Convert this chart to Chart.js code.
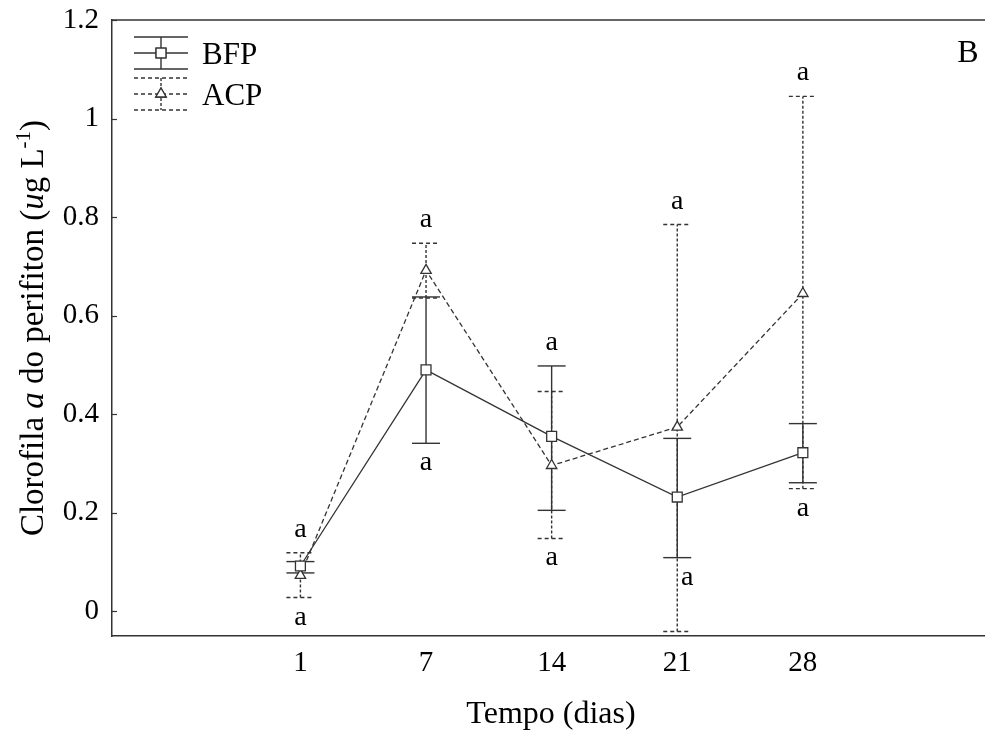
<!DOCTYPE html>
<html>
<head>
<meta charset="utf-8">
<script src="https://cdn.jsdelivr.net/npm/chart.js@4.4.1/dist/chart.umd.min.js"></script>
<style>
  html, body { margin: 0; padding: 0; background: #fff; overflow: hidden; }
  #wrap { width: 985px; height: 733px; }
  canvas { display: block; }
</style>
</head>
<body>
<div id="wrap"><canvas id="c" width="985" height="733"></canvas></div>
<script>
// Sampling days and chlorophyll-a means with error limits (ug/L)
const days = ['1', '7', '14', '21', '28'];
const bfpMean = [0.092, 0.490, 0.355, 0.232, 0.322];
const bfpLow  = [0.078, 0.341, 0.205, 0.109, 0.261];
const bfpHigh = [0.101, 0.638, 0.498, 0.351, 0.381];
const acpMean = [0.073, 0.692, 0.296, 0.374, 0.645];
const acpLow  = [0.028, 0.636, 0.148, -0.041, 0.249];
const acpHigh = [0.119, 0.747, 0.446, 0.785, 1.045];
// Significance letters above and below each sampling day
const lettersTop = ['a', 'a', 'a', 'a', 'a'];
const lettersBottom = ['a', 'a', 'a', 'a', 'a'];
const yTicks = [0, 0.2, 0.4, 0.6, 0.8, 1, 1.2];

const SERIF = '"Liberation Serif", "Times New Roman", serif';
const INK = '#333333';

const series = [
  { label: 'BFP', mean: bfpMean, low: bfpLow, high: bfpHigh, style: 'rect', radius: 7,
    lineDash: [], barDash: [], capDash: [] },
  { label: 'ACP', mean: acpMean, low: acpLow, high: acpHigh, style: 'triangle', radius: 6,
    lineDash: [5, 3], barDash: [3, 2], capDash: [4, 3] }
];

// Vertical error bars with caps, drawn under the markers
const errorBars = {
  id: 'errorBars',
  beforeDatasetsDraw(chart) {
    const ctx = chart.ctx, ys = chart.scales.y;
    series.forEach((s, i) => {
      const meta = chart.getDatasetMeta(i);
      ctx.save();
      ctx.strokeStyle = INK;
      ctx.lineWidth = 1.4;
      meta.data.forEach((pt, j) => {
        const x = pt.x;
        const yl = ys.getPixelForValue(s.low[j]);
        const yh = ys.getPixelForValue(s.high[j]);
        ctx.setLineDash(s.barDash);
        ctx.beginPath(); ctx.moveTo(x, yl); ctx.lineTo(x, yh); ctx.stroke();
        ctx.setLineDash(s.capDash);
        [yl, yh].forEach(y => {
          ctx.beginPath(); ctx.moveTo(x - 14, y); ctx.lineTo(x + 14, y); ctx.stroke();
        });
      });
      ctx.restore();
    });
  }
};

// Letters placed above the highest and below the lowest whisker of each day
const letters = {
  id: 'letters',
  afterDatasetsDraw(chart) {
    const ctx = chart.ctx, ys = chart.scales.y, area = chart.chartArea;
    const meta = chart.getDatasetMeta(0);
    ctx.save();
    ctx.fillStyle = '#000';
    ctx.font = '28px ' + SERIF;
    ctx.textAlign = 'center';
    ctx.textBaseline = 'alphabetic';
    meta.data.forEach((pt, j) => {
      const x = pt.x;
      const top = ys.getPixelForValue(Math.max(bfpHigh[j], acpHigh[j]));
      ctx.fillText(lettersTop[j], x, top - 22 + 6);
      let bot = ys.getPixelForValue(Math.min(bfpLow[j], acpLow[j])) + 21;
      let dx = 0;
      if (bot > area.bottom - 14) {
        bot = ys.getPixelForValue(bfpLow[j]) + 21;
        dx = 10;
      }
      ctx.fillText(lettersBottom[j], x + dx, bot + 6);
    });
    ctx.restore();
  }
};

// Top frame line, inward y ticks, axis titles, panel letter and legend
const decorations = {
  id: 'decorations',
  afterDraw(chart) {
    const ctx = chart.ctx, a = chart.chartArea, ys = chart.scales.y;
    ctx.save();
    ctx.strokeStyle = INK;
    ctx.lineWidth = 1.5;
    ctx.beginPath(); ctx.moveTo(a.left, a.top); ctx.lineTo(a.right, a.top); ctx.stroke();
    ctx.lineWidth = 1.2;
    yTicks.forEach(v => {
      const y = Math.round(ys.getPixelForValue(v)) + 0.5;
      ctx.beginPath(); ctx.moveTo(a.left, y); ctx.lineTo(a.left + 5, y); ctx.stroke();
    });

    ctx.fillStyle = '#000';
    // x title
    ctx.font = '32px ' + SERIF;
    ctx.textAlign = 'center';
    ctx.textBaseline = 'alphabetic';
    ctx.fillText('Tempo (dias)', 551, 723);

    // panel letter
    ctx.fillText('B', 968, 62);

    // y title with italic parts and superscript
    const segs = [
      { t: 'Clorofila ', f: '33px ' + SERIF, dy: 0 },
      { t: 'a', f: 'italic 33px ' + SERIF, dy: 0 },
      { t: ' do perifiton (', f: '33px ' + SERIF, dy: 0 },
      { t: 'u', f: 'italic 33px ' + SERIF, dy: 0 },
      { t: 'g L', f: '33px ' + SERIF, dy: 0 },
      { t: '-1', f: '21px ' + SERIF, dy: -13 },
      { t: ')', f: '33px ' + SERIF, dy: 0 }
    ];
    let total = 0;
    segs.forEach(s => { ctx.font = s.f; s.w = ctx.measureText(s.t).width; total += s.w; });
    ctx.translate(43, 328);
    ctx.rotate(-Math.PI / 2);
    ctx.textAlign = 'left';
    let cx = -total / 2;
    segs.forEach(s => { ctx.font = s.f; ctx.fillText(s.t, cx, s.dy); cx += s.w; });
    ctx.restore();

    // legend with error-bar symbols
    ctx.save();
    const rows = [{ y: 53, cap: 16 }, { y: 94, cap: 16 }];
    series.forEach((s, i) => {
      const r = rows[i];
      const x0 = 134, x1 = 188, xm = 161;
      ctx.strokeStyle = INK;
      ctx.lineWidth = 1.4;
      ctx.setLineDash(s.capDash);
      [r.y - r.cap, r.y, r.y + r.cap].forEach(y => {
        ctx.beginPath(); ctx.moveTo(x0, y); ctx.lineTo(x1, y); ctx.stroke();
      });
      ctx.setLineDash(s.barDash);
      ctx.beginPath(); ctx.moveTo(xm, r.y - r.cap); ctx.lineTo(xm, r.y + r.cap); ctx.stroke();
      ctx.setLineDash([]);
      ctx.fillStyle = '#fff';
      ctx.lineWidth = 1.3;
      Chart.helpers.drawPoint(ctx, { pointStyle: s.style, radius: s.radius, borderWidth: 1.3 }, xm, r.y);
      ctx.fill();
      ctx.stroke();
      ctx.fillStyle = '#000';
      ctx.font = '31px ' + SERIF;
      ctx.textAlign = 'left';
      ctx.textBaseline = 'alphabetic';
      ctx.fillText(s.label, 202, r.y + 11);
    });
    ctx.restore();
  }
};

const datasets = series.map(s => ({
  label: s.label,
  data: s.mean.map((v, i) => ({ x: i, y: v })),
  borderColor: INK,
  borderWidth: 1.3,
  borderDash: s.lineDash,
  tension: 0,
  fill: false,
  pointStyle: s.style,
  pointRadius: s.radius,
  pointBorderWidth: 1.3,
  pointBorderColor: INK,
  pointBackgroundColor: '#fff'
}));

new Chart(document.getElementById('c'), {
  type: 'line',
  data: { datasets },
  options: {
    responsive: false,
    devicePixelRatio: 1,
    animation: false,
    events: [],
    layout: { autoPadding: false, padding: { top: 20, right: 0, bottom: 0, left: 0 } },
    plugins: { legend: { display: false }, tooltip: { enabled: false } },
    scales: {
      x: {
        type: 'linear',
        min: -1.5,
        max: 5.45,
        grid: { display: false, drawTicks: false },
        border: { display: true, color: INK, width: 1.5 },
        ticks: {
          padding: 10,
          color: '#000',
          font: { family: SERIF, size: 29 },
          callback: v => days[v] ?? ''
        },
        afterBuildTicks: sc => { sc.ticks = days.map((d, i) => ({ value: i })); },
        afterFit: sc => { sc.height = 97; sc.paddingLeft = 0; sc.paddingRight = 0; }
      },
      y: {
        min: -0.05,
        max: 1.2,
        grid: { display: false, drawTicks: false },
        border: { display: true, color: INK, width: 1.5 },
        ticks: {
          padding: 13,
          color: '#000',
          font: { family: SERIF, size: 29 },
          callback: v => String(v)
        },
        afterBuildTicks: sc => { sc.ticks = yTicks.map(v => ({ value: v })); },
        afterFit: sc => {
          sc.width = 112; sc.paddingTop = 0; sc.paddingBottom = 0;
          sc.paddingLeft = 0; sc.paddingRight = 0;
        }
      }
    }
  },
  plugins: [errorBars, letters, decorations]
});
</script>
</body>
</html>
